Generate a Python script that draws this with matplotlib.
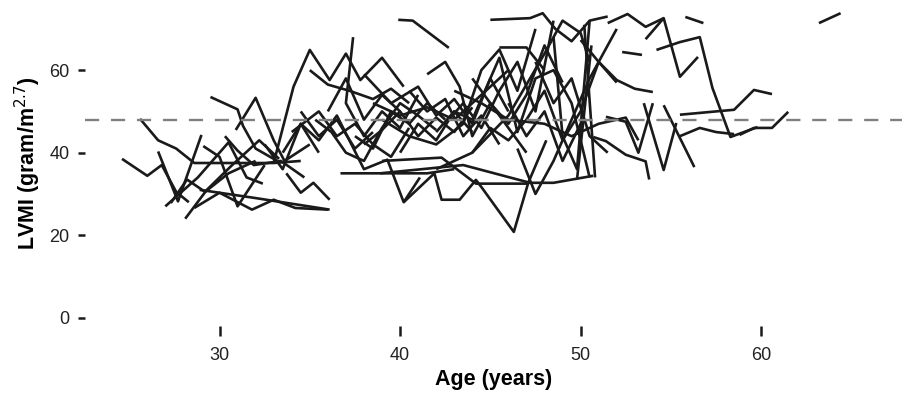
import matplotlib
matplotlib.use("Agg")
import matplotlib.pyplot as plt

# Left ventricular mass index per subject
subject_ages = [
    [24.6, 26.0, 26.8, 27.6, 28.3],
    [25.6, 26.6, 27.6, 28.6, 30.5, 33.0, 34.5],
    [29.5, 31.0, 31.3, 32.0, 33.2],
    [26.6, 27.7, 29.0],
    [28.1, 29.3, 30.7, 32.2, 33.3],
    [29.1, 30.0, 31.0, 32.5],
    [30.3, 31.0, 31.9, 33.4, 34.7],
    [28.6, 30.0, 31.8, 33.0, 34.2, 36.0],
    [28.9, 32.0, 36.1],
    [33.7, 34.5, 35.2, 36.1],
    [27.3, 28.2, 29.2, 30.5, 32.0],
    [30.9, 32.0, 33.0, 33.6, 35.0],
    [27.0, 28.8, 30.5, 31.5, 32.4],
    [33.0, 34.1, 35.0, 36.1, 37.0, 37.8, 39.0, 40.2],
    [35.0, 36.0, 37.2, 38.5, 39.5, 40.5],
    [33.5, 34.5, 35.5, 36.5, 38.0, 39.3, 40.2, 41.1],
    [36.7, 38.5, 41.5, 43.0],
    [37.4, 37.0, 38.0, 39.0, 40.0, 41.0],
    [34.0, 35.5, 36.5, 37.5, 38.5, 39.5, 40.5],
    [35.3, 36.2, 37.0, 38.0, 39.0, 40.0, 41.0, 42.0],
    [38.0, 39.0, 40.0, 41.0, 42.0, 43.0, 44.0],
    [39.9, 40.7, 42.7],
    [40.2, 41.9, 42.3, 43.3, 44.2, 44.5, 46.3, 47.1, 48.1],
    [38.9, 43.5, 47.2, 48.5, 50.7],
    [39.0, 42.3, 44.2, 47.1],
    [38.0, 39.5, 41.0, 42.0, 43.0, 44.0, 45.0, 46.0],
    [41.5, 42.5, 43.3, 44.0, 45.0, 46.0, 47.0],
    [39.0, 40.5, 42.0, 43.5, 44.5, 45.5, 46.5, 47.5],
    [45.0, 47.2, 47.9, 48.6, 49.5, 50.5, 51.5],
    [42.0, 43.0, 44.0, 45.5, 46.5, 47.5, 48.5, 49.5, 50.5],
    [44.0, 45.0, 46.0, 47.0, 48.0, 49.0, 50.0, 51.0, 52.0],
    [46.5, 47.5, 48.5, 49.5, 50.5, 51.5, 52.0],
    [42.0, 44.0, 46.0, 48.0, 49.0, 50.0, 50.5],
    [43.0, 44.5, 46.0, 48.0, 49.5, 51.0, 52.5, 53.2],
    [45.5, 47.0, 48.0],
    [51.5, 52.6, 53.6, 54.6, 55.5, 56.5],
    [53.6, 54.6],
    [54.2, 55.5, 56.6, 57.3, 58.3, 59.8],
    [55.8, 56.8],
    [52.3, 53.4],
    [50.0, 51.0, 52.0, 53.0, 54.0],
    [53.5, 54.6, 55.3],
    [54.6, 56.3],
    [55.5, 58.5, 59.6, 60.6],
    [55.5, 56.6, 57.5, 58.5],
    [50.7, 51.4, 52.5, 53.6, 53.8],
    [51.4, 52.5, 53.2, 54.0],
    [58.8, 59.6, 60.6, 61.5],
    [63.2, 64.4],
    [49.8, 50.6],
    [50.2, 50.8],
    [48.5, 49.0, 49.8, 50.5],
    [36.0, 37.0, 38.0, 39.0, 40.0],
    [37.5, 38.5, 39.5, 40.5, 41.5, 42.5],
    [40.5, 41.5, 42.5, 43.5, 44.5, 45.5],
    [42.5, 43.5, 44.5, 45.5, 46.5, 47.5, 48.5],
    [44.0, 45.0, 46.0, 47.0, 48.0, 49.0],
    [46.0, 47.0, 48.0, 49.0, 50.0],
    [47.5, 48.5, 49.5, 50.5, 51.5],
    [34.5, 35.5, 36.5, 37.5, 38.5],
    [32.5, 33.5, 34.5, 35.5],
    [40.0, 41.0, 42.0, 43.0, 44.0],
    [38.5, 40.0, 41.5, 43.0, 44.5, 46.0],
]
subject_lvmi = [
    [38.5, 34.4, 37.0, 30.5, 28.0],
    [48.2, 43.0, 41.0, 37.5, 37.5, 37.5, 38.0],
    [53.5, 50.5, 46.5, 41.0, 38.0],
    [40.3, 28.2, 44.3],
    [24.0, 31.0, 37.0, 43.0, 38.5],
    [41.6, 39.0, 27.0, 37.0],
    [44.0, 40.5, 37.0, 38.0, 34.0],
    [26.6, 30.3, 26.2, 28.6, 26.6, 26.2],
    [31.0, 29.0, 26.2],
    [35.0, 30.3, 32.7, 28.6],
    [27.8, 33.5, 30.5, 35.0, 38.0],
    [45.5, 53.3, 43.0, 38.0, 42.0],
    [27.0, 34.0, 42.5, 34.0, 32.5],
    [37.5, 56.0, 64.9, 57.6, 64.0, 57.6, 63.0, 56.0],
    [60.0, 56.5, 55.0, 53.0, 55.5, 52.0],
    [40.0, 47.0, 43.0, 49.0, 36.0, 38.3, 28.0, 34.0],
    [35.0, 35.0, 35.0, 36.0],
    [68.0, 52.0, 44.0, 50.0, 46.0, 54.0],
    [45.0, 50.0, 44.0, 47.0, 42.0, 39.0, 46.0],
    [48.0, 45.0, 40.0, 38.0, 46.0, 52.0, 49.0, 45.5],
    [42.0, 45.5, 50.0, 44.0, 48.5, 45.0, 51.0],
    [72.2, 72.0, 65.4],
    [28.0, 35.0, 28.6, 28.6, 33.4, 31.7, 20.8, 32.7, 43.0],
    [35.0, 37.0, 32.7, 32.7, 34.4],
    [38.0, 38.8, 32.5, 32.5],
    [59.0, 52.0, 56.0, 49.0, 53.0, 47.0, 58.0, 50.0],
    [59.0, 62.0, 56.0, 44.0, 52.0, 46.0, 40.0],
    [48.0, 44.0, 42.0, 47.0, 60.0, 65.0, 55.0, 70.0],
    [72.2, 72.6, 73.8, 70.0, 67.0, 72.0, 73.0],
    [45.0, 50.0, 48.0, 63.0, 45.0, 58.0, 60.0, 52.0, 34.0],
    [40.0, 46.0, 43.0, 48.0, 55.0, 43.0, 50.0, 62.0, 57.0],
    [41.0, 30.0, 38.0, 48.0, 58.0, 66.0, 70.0],
    [36.0, 40.0, 49.0, 64.0, 72.0, 69.0, 62.0],
    [55.0, 52.0, 48.0, 47.0, 44.0, 47.0, 48.5, 43.0],
    [65.5, 65.5, 60.0],
    [71.4, 73.6, 70.5, 72.6, 58.4, 63.2],
    [67.5, 72.6],
    [64.9, 66.8, 68.0, 55.7, 43.8, 46.2],
    [72.9, 71.4],
    [64.4, 63.7],
    [67.3, 62.0, 57.6, 55.5, 54.7],
    [52.0, 35.8, 47.2],
    [51.5, 36.5],
    [49.2, 50.4, 55.2, 54.2],
    [44.0, 46.0, 45.0, 44.5],
    [43.8, 42.8, 39.5, 37.9, 33.5],
    [48.7, 47.5, 40.0, 52.0],
    [44.3, 46.0, 46.0, 49.9],
    [71.4, 73.8],
    [33.5, 66.0],
    [71.0, 34.0],
    [68.0, 44.0, 36.0, 72.0],
    [50.0, 58.0, 48.0, 54.0, 50.0],
    [44.0, 41.0, 50.0, 47.0, 52.0, 48.0],
    [55.0, 50.0, 53.0, 44.0, 49.0, 42.0],
    [47.0, 52.0, 46.0, 55.0, 62.0, 50.0, 72.0],
    [58.0, 52.0, 47.0, 54.0, 66.0, 57.0],
    [52.0, 44.0, 50.0, 38.0, 47.0],
    [62.0, 52.0, 58.0, 44.0, 40.0],
    [50.0, 44.0, 48.0, 41.0, 45.0],
    [42.0, 36.0, 47.0, 40.0],
    [40.0, 47.0, 43.0, 50.0, 45.0],
    [52.0, 49.0, 51.0, 48.0, 54.0, 60.0],
]
reference_lvmi = 48
x_ticks = [30, 40, 50, 60]
y_ticks = [0, 20, 40, 60]

plt.rcParams['font.family'] = ['Liberation Sans', 'DejaVu Sans']

fig = plt.figure(figsize=(9.02, 3.93), dpi=100)
ax = fig.add_axes([85 / 902, 1 - 326 / 393, 817 / 902, 326 / 393])

for ages, vals in zip(subject_ages, subject_lvmi):
    ax.plot(ages, vals, color='#1a1a1a', lw=1.9, solid_capstyle='butt')

ax.axhline(reference_lvmi, color='#808080', lw=1.7, dashes=(6, 5))

ax.set_xlim(22.55, 67.8)
ax.set_ylim(-2, 77)
ax.set_xticks(x_ticks)
ax.set_yticks(y_ticks)
for side in ['top', 'right', 'bottom', 'left']:
    ax.spines[side].set_visible(False)
ax.tick_params(axis='both', direction='out', width=1.8,
               color='#1a1a1a', labelsize=13, labelcolor='#222222')
ax.tick_params(axis='y', length=5, pad=6)
ax.tick_params(axis='x', length=7, pad=8)

ax.set_xlabel('Age (years)', fontsize=15.5, fontweight='bold', labelpad=4)
ax.set_ylabel('LVMI (gram/m$^{2.7}$)', fontsize=15.5, fontweight='bold', labelpad=5)

fig.savefig('out.png', dpi=100)
